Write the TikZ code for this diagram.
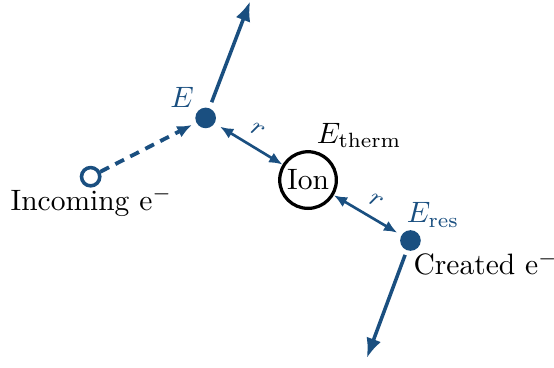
\documentclass[tikz,border=0pt]{standalone}
\usepackage{amsmath}
\usetikzlibrary{arrows.meta,calc}
\definecolor{elec}{HTML}{1A4F80}

\begin{document}
\begin{tikzpicture}[scale=1.0,
  dot/.style={circle,fill=elec,inner sep=0pt,minimum size=7pt},
  hollow/.style={circle,draw=elec,fill=white,line width=1.2pt,inner sep=0pt,minimum size=6.2pt},
  track/.style={elec,line width=1.2pt,-{Latex[length=6.7pt,width=5.2pt]}},
  dist/.style={elec,line width=0.9pt,{Latex[length=4.5pt,width=3.8pt]}-{Latex[length=4.5pt,width=3.8pt]}},
  lbl/.style={inner sep=0pt}]
  \useasboundingbox (-3.67,-2.23) rectangle (2.93,2.145);
  % ion and electrons
  \node[circle,draw,line width=1.1pt,minimum size=19.2pt,inner sep=0pt] (ion) at (0,0) {Ion};
  \node[dot] (e) at (-1.22,0.74) {};
  \node[dot] (eres) at (1.22,-0.72) {};
  \node[hollow] (inc) at (-2.59,0.04) {};
  \coordinate (up) at (-0.69,2.13);
  \coordinate (down) at (0.70,-2.12);
  % tracks
  \draw[track,line width=1.3pt,dash pattern=on 3.3pt off 2.4pt,-{Latex[length=5pt,width=4.2pt]},shorten >=1.5pt] (inc) -- (e);
  \draw[track,shorten <=2pt] (e) -- (up);
  \draw[track,shorten <=1.5pt] (eres) -- (down);
  \draw[dist,shorten <=2pt] (e) -- node[midway,above,sloped,font=\small] {$r$} (ion);
  \draw[dist,shorten >=1.5pt] (ion) -- node[midway,above,sloped,font=\small] {$r$} (eres);
  % labels
  \node[lbl,text=elec,anchor=base] (elab) at (-1.50,0.86) {$E$};
  \node[lbl,text=elec,anchor=base] (reslab) at (1.49,-0.51) {$E_{\mathrm{res}}$};
  \node[lbl,anchor=base] (thermlab) at (0.61,0.44) {$E_{\mathrm{therm}}$};
  \node[lbl,anchor=base] (inclab) at (-2.58,-0.36) {Incoming e$^-$};
  \node[lbl,anchor=base west] (crelab) at (1.25,-1.13) {Created e$^-$};
\end{tikzpicture}
\end{document}
